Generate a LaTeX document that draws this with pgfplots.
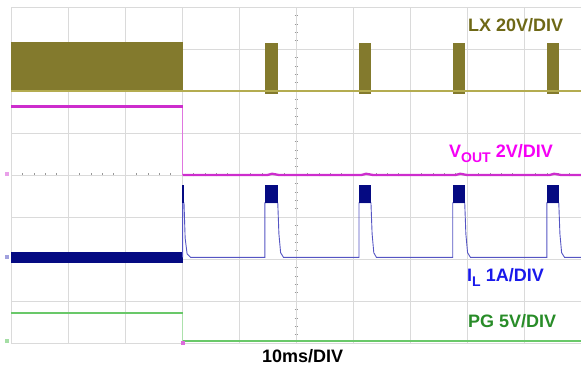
\documentclass[border=0pt]{standalone}
\usepackage{pgfplots}
\pgfplotsset{compat=1.18}
\usepackage{fontspec}
\setmainfont{Liberation Sans}
\definecolor{lxfill}{RGB}{131,122,45}
\definecolor{lxline}{RGB}{180,172,80}
\definecolor{lxtext}{RGB}{110,104,22}
\definecolor{voutc}{RGB}{205,45,205}
\definecolor{vouttext}{RGB}{245,0,245}
\definecolor{ilfill}{RGB}{5,10,130}
\definecolor{illine}{RGB}{85,85,195}
\definecolor{iltext}{RGB}{25,25,235}
\definecolor{pgc}{RGB}{105,200,105}
\definecolor{pgtext}{RGB}{40,140,40}
\definecolor{gridc}{RGB}{218,218,218}
\begin{document}
\begin{tikzpicture}
\useasboundingbox (0,0) rectangle (581pt,369pt);
% centre-line ticks (scope graticule)
\foreach \i in {0,...,50} \draw[gridc!70!black, line width=0.5pt] ({11+11.4*\i pt},192.5pt) -- ({11+11.4*\i pt},195.5pt);
\foreach \j in {0,...,40} \draw[gridc!70!black, line width=0.5pt] (294.5pt,{26+8.4*\j pt}) -- (297.5pt,{26+8.4*\j pt});
\begin{axis}[at={(11pt,26pt)}, anchor=south west, scale only axis,
  width=570pt, height=336pt, xmin=0, xmax=100, ymin=0, ymax=8,
  xtick={0,10,...,100}, ytick={0,1,...,8}, xticklabels={}, yticklabels={},
  major tick length=0pt, grid=major, grid style={gridc, line width=0.6pt},
  axis line style={gridc, line width=0.8pt}]
% ---- LX ----
\addplot[draw=none, fill=lxfill] coordinates {(0,5.98)(0,7.17)(30.1,7.17)(30.1,5.98)};
\addplot[draw=none, fill=lxfill] coordinates {(44.5,5.92)(44.5,7.15)(46.8,7.15)(46.8,5.92)};
\addplot[draw=none, fill=lxfill] coordinates {(61.0,5.92)(61.0,7.15)(63.2,7.15)(63.2,5.92)};
\addplot[draw=none, fill=lxfill] coordinates {(77.5,5.92)(77.5,7.15)(79.7,7.15)(79.7,5.92)};
\addplot[draw=none, fill=lxfill] coordinates {(94.0,5.92)(94.0,7.15)(96.2,7.15)(96.2,5.92)};
\addplot[draw=lxline, line width=1.3pt] coordinates {(0,6.0)(100,6.0)};
% ---- VOUT ----
\addplot[draw=voutc!65, line width=0.7pt] coordinates {(30.1,5.63)(30.1,4.0)};
\addplot[draw=voutc, line width=2.3pt] coordinates {(0,5.63)(30.1,5.63)};
\addplot[draw=voutc, line width=2.3pt] coordinates {(30.1,4.0)(45,4.0)(45.8,4.03)(47,4.0)(61.5,4.0)(62.3,4.03)(63.5,4.0)(78,4.0)(78.8,4.03)(80,4.0)(94.5,4.0)(95.3,4.03)(96.5,4.0)(100,4.0)};
% ---- IL ----
\addplot[draw=none, fill=ilfill] coordinates {(0,1.91)(0,2.17)(30.1,2.17)(30.1,1.91)};
\addplot[draw=illine, line width=0.9pt] coordinates {(30.1,2.04)(30.1,3.34)(30.35,3.34)(30.55,2.5)(30.9,2.12)(31.5,2.04)
 (44.55,2.04)(44.55,3.34)(46.8,3.34)(47.0,2.6)(47.3,2.15)(47.8,2.04)
 (61.05,2.04)(61.05,3.34)(63.15,3.34)(63.35,2.6)(63.65,2.15)(64.1,2.04)
 (77.5,2.04)(77.5,3.34)(79.6,3.34)(79.8,2.6)(80.1,2.15)(80.6,2.04)
 (94.0,2.04)(94.0,3.34)(96.1,3.34)(96.3,2.6)(96.6,2.15)(97.1,2.04)(100,2.04)};
\addplot[draw=none, fill=ilfill] coordinates {(29.95,3.34)(29.95,3.75)(30.35,3.75)(30.35,3.34)};
\addplot[draw=none, fill=ilfill] coordinates {(44.6,3.34)(44.6,3.75)(46.8,3.75)(46.8,3.34)};
\addplot[draw=none, fill=ilfill] coordinates {(61.05,3.34)(61.05,3.75)(63.15,3.75)(63.15,3.34)};
\addplot[draw=none, fill=ilfill] coordinates {(77.5,3.34)(77.5,3.75)(79.6,3.75)(79.6,3.34)};
\addplot[draw=none, fill=ilfill] coordinates {(94.0,3.34)(94.0,3.75)(96.1,3.75)(96.1,3.34)};
% ---- PG ----
\addplot[draw=pgc!55, line width=0.6pt] coordinates {(30.1,0.71)(30.1,0.05)};
\addplot[draw=pgc, line width=1.6pt] coordinates {(0,0.71)(30.1,0.71)};
\addplot[draw=pgc, line width=1.6pt] coordinates {(30.1,0.05)(100,0.05)};
\end{axis}
% channel ground markers and trigger marker
\fill[voutc!45] (5pt,193pt) rectangle (9pt,197pt);
\fill[illine!55] (5pt,110pt) rectangle (9pt,114pt);
\fill[pgc!60] (5pt,26pt) rectangle (9pt,30pt);
\fill[voutc!70] (181pt,24pt) rectangle (185pt,28pt);
\fontsize{18}{20}\selectfont\bfseries
\node[anchor=base west, inner sep=0pt, text=lxtext] at (468pt,337pt) {LX 20V/DIV};
\node[anchor=base west, inner sep=0pt, text=vouttext] at (449pt,211pt) {V\raisebox{-5pt}{\fontsize{14}{16}\selectfont OUT} 2V/DIV};
\node[anchor=base west, inner sep=0pt, text=iltext] at (467pt,87pt) {I\raisebox{-5pt}{\fontsize{14}{16}\selectfont L} 1A/DIV};
\node[anchor=base west, inner sep=0pt, text=pgtext] at (468pt,41pt) {PG 5V/DIV};
\node[anchor=base west, inner sep=0pt, text=black] at (262pt,6pt) {10ms/DIV};
\end{tikzpicture}
\end{document}
